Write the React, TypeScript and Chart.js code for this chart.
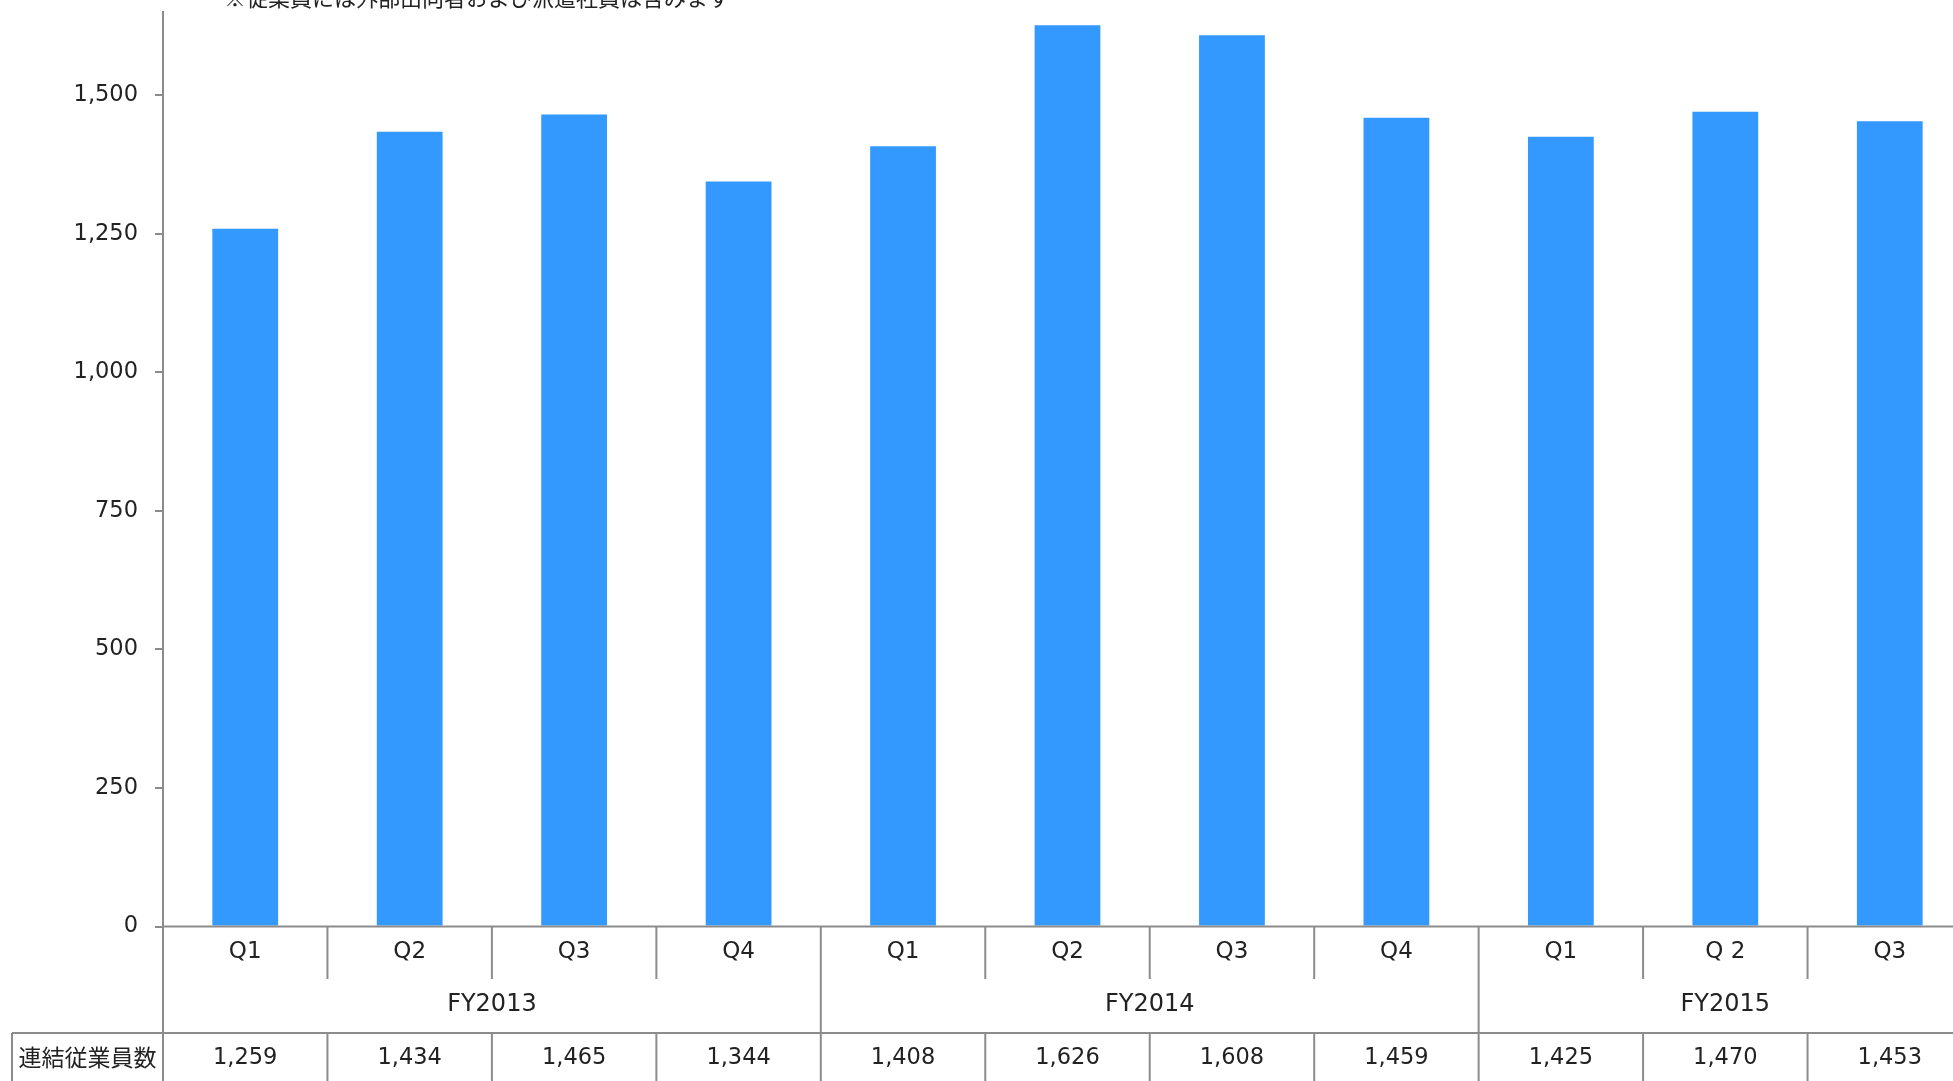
import { useEffect, useRef } from 'react';
import { Chart, registerables } from 'chart.js';

Chart.register(...registerables);

const categories = ['Q1', 'Q2', 'Q3', 'Q4', 'Q1', 'Q2', 'Q3', 'Q4', 'Q1', 'Q 2', 'Q3'];
const employees = [1259, 1434, 1465, 1344, 1408, 1626, 1608, 1459, 1425, 1470, 1453];
const fiscalYears = ['FY2013', 'FY2014', 'FY2015'];
const quartersPerYear = [4, 4, 3];
const yTickValues = [0, 250, 500, 750, 1000, 1250, 1500];
const yMax = 1650;
const rowLabel = '連結従業員数';
const note = '※従業員には外部出向者および派遣社員は含みます';

const BAR_COLOR = '#3399FF';
const LINE_COLOR = '#8c8c8c';
const TEXT_COLOR = '#222222';
const LATIN = "'DejaVu Sans', 'Noto Sans CJK JP', sans-serif";
const CJK = "'Noto Sans CJK JP', sans-serif";

const fmt = (v: number) => v.toLocaleString('en-US');

export default function App() {
  const ref = useRef<HTMLCanvasElement>(null);

  useEffect(() => {
    if (!ref.current) return;

    const tablePlugin = {
      id: 'tablePlugin',
      afterDraw(chart: any) {
        const ctx = chart.ctx as CanvasRenderingContext2D;
        const { left, right, bottom } = chart.chartArea;
        const W = chart.width;
        const H = chart.height;
        const xs = chart.scales.x;
        const n = categories.length;
        const cw = (right - left) / n;
        const qRowBottom = 979;
        const tableTop = 1033;
        const tableLeft = 12;

        ctx.save();
        ctx.strokeStyle = LINE_COLOR;
        ctx.lineWidth = 2;
        const seg = (x1: number, y1: number, x2: number, y2: number) => {
          ctx.beginPath();
          ctx.moveTo(x1, y1);
          ctx.lineTo(x2, y2);
          ctx.stroke();
        };
        // zero baseline
        seg(left - 1, bottom, W, bottom);
        // axis continuation
        seg(left, bottom, left, H);
        // year boundaries and quarter dividers
        const yearStarts: number[] = [];
        let acc = 0;
        quartersPerYear.forEach((q) => {
          yearStarts.push(acc);
          acc += q;
        });
        for (let i = 1; i < n + 1; i++) {
          const bx = left + i * cw;
          if (yearStarts.includes(i)) {
            seg(bx, bottom, bx, H);
          } else {
            seg(bx, bottom, bx, qRowBottom);
            seg(bx, tableTop, bx, H);
          }
        }
        // table top line and left box
        seg(tableLeft, tableTop, W, tableTop);
        seg(tableLeft, tableTop, tableLeft, H);

        // texts
        ctx.fillStyle = TEXT_COLOR;
        ctx.textAlign = 'center';
        ctx.textBaseline = 'middle';
        ctx.font = `23px ${LATIN}`;
        categories.forEach((c, i) => {
          ctx.fillText(c, xs.getPixelForValue(i), 952);
        });
        ctx.font = `24px ${LATIN}`;
        let start = 0;
        fiscalYears.forEach((fy, k) => {
          const cnt = quartersPerYear[k];
          let sum = 0;
          for (let i = start; i < start + cnt; i++) sum += xs.getPixelForValue(i);
          ctx.fillText(fy, sum / cnt, 1005);
          start += cnt;
        });
        ctx.font = `22.5px ${LATIN}`;
        employees.forEach((v, i) => {
          ctx.fillText(fmt(v), xs.getPixelForValue(i), 1058);
        });
        ctx.font = `23px ${CJK}`;
        ctx.fillText(rowLabel, (tableLeft + left) / 2, 1057);

        // note at the top (cut off by the frame)
        ctx.textAlign = 'left';
        ctx.textBaseline = 'alphabetic';
        ctx.font = `22px ${CJK}`;
        ctx.fillText(note, 224, 6);
        ctx.restore();
      },
    };

    const chart = new Chart(ref.current, {
      type: 'bar',
      data: {
        labels: categories,
        datasets: [
          {
            data: employees,
            backgroundColor: BAR_COLOR,
            borderWidth: 0,
            barPercentage: 0.4,
            categoryPercentage: 1,
          },
        ],
      },
      options: {
        responsive: false,
        animation: false,
        layout: { padding: { left: 0, right: 18, top: 12, bottom: 154.5 } },
        plugins: {
          legend: { display: false },
          tooltip: { enabled: false },
          title: { display: false },
        },
        scales: {
          x: {
            display: false,
          },
          y: {
            min: 0,
            max: yMax,
            afterFit(scale: any) {
              scale.width = 163;
              scale.paddingTop = 0;
              scale.paddingBottom = 0;
            },
            afterBuildTicks(scale: any) {
              scale.ticks = yTickValues.map((v) => ({ value: v }));
            },
            grid: {
              display: true,
              drawOnChartArea: false,
              drawTicks: true,
              tickLength: 8,
              color: LINE_COLOR,
              lineWidth: 2,
            },
            border: { display: true, color: LINE_COLOR, width: 2 },
            ticks: {
              padding: 17,
              color: TEXT_COLOR,
              font: { family: LATIN, size: 22.5 },
              callback: (v: any) => fmt(Number(v)),
            },
          },
        },
      },
      plugins: [tablePlugin],
    });

    return () => chart.destroy();
  }, []);

  return (
    <div
      style={{
        position: 'fixed',
        left: 0,
        top: 0,
        width: 1953,
        height: 1081,
        overflow: 'hidden',
        background: '#fff',
      }}
    >
      <canvas ref={ref} width={1990} height={1081} style={{ display: 'block', width: 1990, height: 1081 }} />
    </div>
  );
}
